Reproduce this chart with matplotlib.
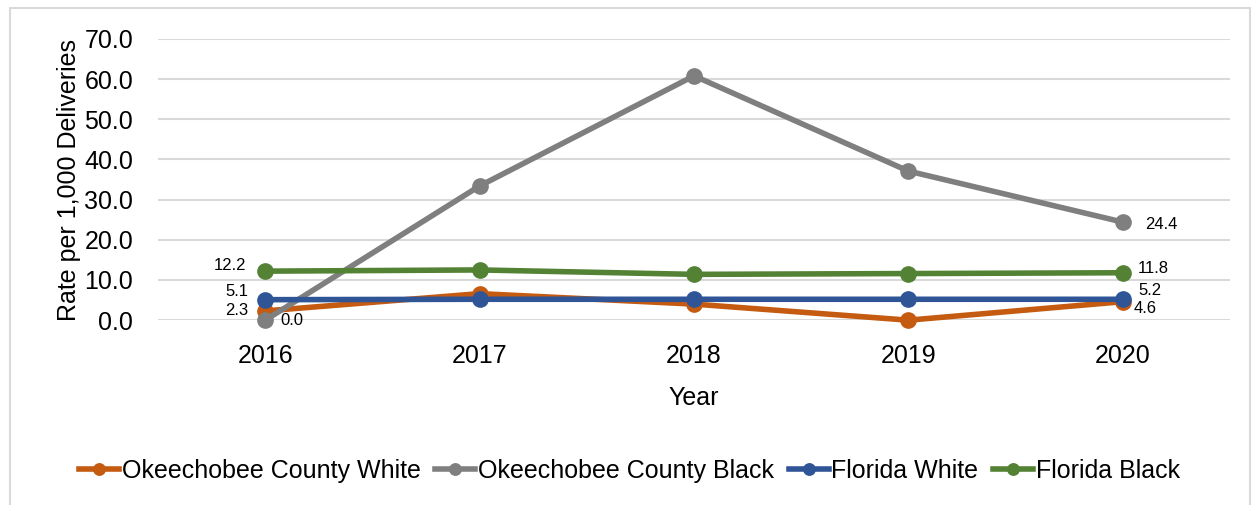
import matplotlib.pyplot as plt
from matplotlib.patches import Rectangle

# 数据
years = ["2016", "2017", "2018", "2019", "2020"]
okee_white = [2.3, 6.6, 4.0, 0.0, 4.6]
okee_black = [0.0, 33.4, 60.8, 37.1, 24.4]
fl_white = [5.1, 5.2, 5.2, 5.2, 5.2]
fl_black = [12.2, 12.5, 11.4, 11.6, 11.8]

series = [
    ("Okeechobee County White", okee_white, "#c55a11"),
    ("Okeechobee County Black", okee_black, "#7f7f7f"),
    ("Florida White", fl_white, "#2f5597"),
    ("Florida Black", fl_black, "#548235"),
]

plt.rcParams["font.family"] = ["Liberation Sans", "DejaVu Sans"]

fig = plt.figure(figsize=(12.59, 5.05), dpi=100)
ax = fig.add_axes([0.1255, 0.366, 0.8515, 0.557])

x = list(range(len(years)))
for i, (label, vals, color) in enumerate(series):
    ax.plot(x, vals, "-o", color=color, lw=4, ms=11, label=label, zorder=3 + i, clip_on=False)

ax.set_xlim(-0.5, 4.5)
ax.set_ylim(0, 70)
ax.set_yticks(range(0, 71, 10))
ax.set_yticklabels([f"{v:.1f}" for v in range(0, 71, 10)])
ax.set_xticks(x)
ax.set_xticklabels(years)
ax.tick_params(axis="both", length=0, labelsize=18, colors="black")
ax.tick_params(axis="x", pad=17)
ax.tick_params(axis="y", pad=18)
ax.grid(axis="y", color="#d9d9d9", lw=1.5)
ax.set_axisbelow(True)
for s in ax.spines.values():
    s.set_visible(False)
ax.set_ylabel("Rate per 1,000 Deliveries", fontsize=18, labelpad=2)
ax.set_xlabel("Year", fontsize=18, labelpad=13)

# 数据标签
fs = 12
ax.annotate(f"{fl_black[0]:.1f}", (0, fl_black[0]), xytext=(-14, 4), textcoords="offset points", ha="right", va="center", fontsize=fs)
ax.annotate(f"{fl_white[0]:.1f}", (0, fl_white[0]), xytext=(-12, 6), textcoords="offset points", ha="right", va="center", fontsize=fs)
ax.annotate(f"{okee_white[0]:.1f}", (0, okee_white[0]), xytext=(-12, 0), textcoords="offset points", ha="right", va="center", fontsize=fs)
ax.annotate(f"{okee_black[0]:.1f}", (0, okee_black[0]), xytext=(11, 0), textcoords="offset points", ha="left", va="center", fontsize=fs)
ax.annotate(f"{okee_black[4]:.1f}", (4, okee_black[4]), xytext=(16, -2), textcoords="offset points", ha="left", va="center", fontsize=fs)
ax.annotate(f"{fl_black[4]:.1f}", (4, fl_black[4]), xytext=(11, 3), textcoords="offset points", ha="left", va="center", fontsize=fs)
ax.annotate(f"{fl_white[4]:.1f}", (4, fl_white[4]), xytext=(11, 6), textcoords="offset points", ha="left", va="center", fontsize=fs)
ax.annotate(f"{okee_white[4]:.1f}", (4, okee_white[4]), xytext=(8, -5), textcoords="offset points", ha="left", va="center", fontsize=fs)

fig.legend(loc="center", bbox_to_anchor=(0.5, 0.068),
           ncol=4, frameon=False, fontsize=18, handlelength=1.6, handletextpad=0.1,
           columnspacing=0.6, markerscale=0.75)

# 外框
fig.patches.append(Rectangle((10 / 1259, -0.05), 1240 / 1259, 1.05 - 8 / 505, transform=fig.transFigure,
                             fill=False, edgecolor="#d9d9d9", lw=1.5))

fig.savefig("out.png", dpi=100)
